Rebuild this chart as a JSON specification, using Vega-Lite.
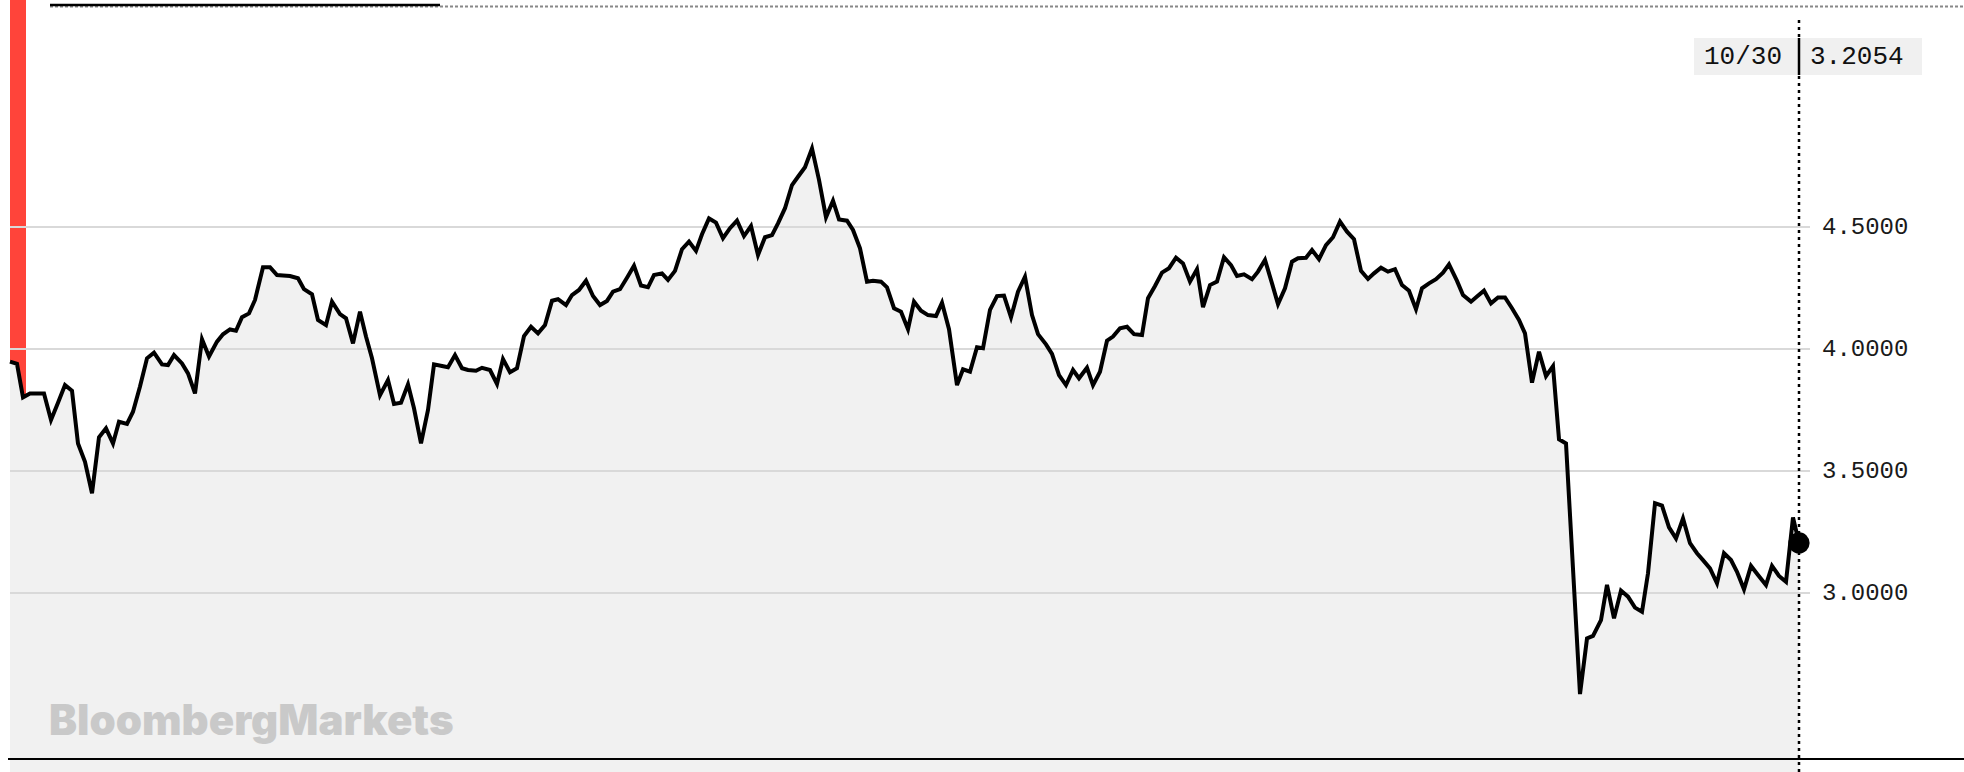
{
  "$schema": "https://vega.github.io/schema/vega-lite/v6.json",
  "width": 1964,
  "height": 772,
  "autosize": {"type": "none"},
  "padding": 0,
  "background": "white",
  "config": {"view": {"stroke": null}},
  "datasets": {
    "series": [
      {"t":0,"v":3.948},{"t":7,"v":3.939},{"t":13,"v":3.802},{"t":20,"v":3.818},{"t":27,"v":3.818},{"t":34,"v":3.818},
      {"t":41,"v":3.709},{"t":48,"v":3.780},{"t":55,"v":3.852},{"t":62,"v":3.829},{"t":68,"v":3.613},{"t":75,"v":3.538},
      {"t":82,"v":3.409},{"t":89,"v":3.638},{"t":96,"v":3.675},{"t":103,"v":3.613},{"t":109,"v":3.702},{"t":117,"v":3.693},
      {"t":123,"v":3.743},{"t":130,"v":3.846},{"t":137,"v":3.962},{"t":144,"v":3.985},{"t":152,"v":3.937},{"t":158,"v":3.934},
      {"t":164,"v":3.975},{"t":172,"v":3.941},{"t":178,"v":3.900},{"t":185,"v":3.818},{"t":192,"v":4.040},{"t":199,"v":3.969},
      {"t":207,"v":4.030},{"t":213,"v":4.060},{"t":220,"v":4.080},{"t":226,"v":4.075},{"t":232,"v":4.130},{"t":239,"v":4.146},
      {"t":245,"v":4.201},{"t":253,"v":4.335},{"t":260,"v":4.335},{"t":267,"v":4.303},{"t":273,"v":4.301},{"t":280,"v":4.299},
      {"t":288,"v":4.290},{"t":294,"v":4.245},{"t":302,"v":4.224},{"t":308,"v":4.119},{"t":316,"v":4.098},{"t":322,"v":4.194},
      {"t":330,"v":4.143},{"t":336,"v":4.126},{"t":343,"v":4.023},{"t":350,"v":4.153},{"t":356,"v":4.051},{"t":362,"v":3.962},
      {"t":370,"v":3.811},{"t":378,"v":3.873},{"t":384,"v":3.775},{"t":391,"v":3.780},{"t":398,"v":3.855},{"t":404,"v":3.757},
      {"t":411,"v":3.613},{"t":418,"v":3.750},{"t":424,"v":3.937},{"t":432,"v":3.930},{"t":438,"v":3.925},{"t":445,"v":3.975},
      {"t":452,"v":3.921},{"t":458,"v":3.914},{"t":466,"v":3.911},{"t":472,"v":3.923},{"t":480,"v":3.914},{"t":487,"v":3.857},
      {"t":493,"v":3.959},{"t":500,"v":3.905},{"t":507,"v":3.921},{"t":514,"v":4.053},{"t":521,"v":4.091},{"t":528,"v":4.064},
      {"t":535,"v":4.098},{"t":542,"v":4.198},{"t":548,"v":4.204},{"t":556,"v":4.180},{"t":562,"v":4.221},{"t":569,"v":4.242},
      {"t":576,"v":4.280},{"t":583,"v":4.217},{"t":590,"v":4.180},{"t":597,"v":4.197},{"t":603,"v":4.235},{"t":610,"v":4.245},
      {"t":617,"v":4.292},{"t":624,"v":4.341},{"t":631,"v":4.260},{"t":638,"v":4.253},{"t":644,"v":4.303},{"t":652,"v":4.310},
      {"t":658,"v":4.283},{"t":665,"v":4.320},{"t":672,"v":4.409},{"t":679,"v":4.440},{"t":686,"v":4.402},{"t":692,"v":4.470},
      {"t":699,"v":4.535},{"t":706,"v":4.518},{"t":713,"v":4.454},{"t":720,"v":4.495},{"t":727,"v":4.526},{"t":734,"v":4.463},
      {"t":741,"v":4.504},{"t":748,"v":4.385},{"t":755,"v":4.458},{"t":762,"v":4.467},{"t":768,"v":4.515},{"t":775,"v":4.577},
      {"t":782,"v":4.672},{"t":788,"v":4.706},{"t":795,"v":4.745},{"t":802,"v":4.822},{"t":809,"v":4.693},{"t":816,"v":4.540},
      {"t":823,"v":4.608},{"t":829,"v":4.531},{"t":837,"v":4.526},{"t":843,"v":4.488},{"t":850,"v":4.413},{"t":857,"v":4.276},
      {"t":863,"v":4.280},{"t":871,"v":4.276},{"t":877,"v":4.253},{"t":884,"v":4.167},{"t":891,"v":4.153},{"t":898,"v":4.081},
      {"t":904,"v":4.194},{"t":911,"v":4.157},{"t":918,"v":4.139},{"t":926,"v":4.135},{"t":932,"v":4.190},{"t":939,"v":4.081},
      {"t":947,"v":3.852},{"t":953,"v":3.917},{"t":960,"v":3.907},{"t":967,"v":4.007},{"t":973,"v":4.003},{"t":980,"v":4.160},
      {"t":987,"v":4.217},{"t":994,"v":4.219},{"t":1001,"v":4.130},{"t":1008,"v":4.235},{"t":1015,"v":4.296},{"t":1022,"v":4.139},
      {"t":1028,"v":4.061},{"t":1036,"v":4.019},{"t":1042,"v":3.980},{"t":1049,"v":3.893},{"t":1056,"v":3.852},{"t":1063,"v":3.914},
      {"t":1069,"v":3.880},{"t":1077,"v":3.923},{"t":1083,"v":3.852},{"t":1090,"v":3.907},{"t":1097,"v":4.034},{"t":1103,"v":4.051},
      {"t":1110,"v":4.085},{"t":1117,"v":4.091},{"t":1124,"v":4.061},{"t":1132,"v":4.057},{"t":1138,"v":4.208},{"t":1145,"v":4.258},
      {"t":1152,"v":4.313},{"t":1159,"v":4.331},{"t":1166,"v":4.374},{"t":1173,"v":4.351},{"t":1180,"v":4.276},{"t":1187,"v":4.327},
      {"t":1193,"v":4.171},{"t":1200,"v":4.262},{"t":1207,"v":4.276},{"t":1214,"v":4.376},{"t":1221,"v":4.344},{"t":1227,"v":4.299},
      {"t":1234,"v":4.306},{"t":1242,"v":4.286},{"t":1248,"v":4.317},{"t":1255,"v":4.365},{"t":1262,"v":4.269},{"t":1268,"v":4.184},
      {"t":1275,"v":4.249},{"t":1282,"v":4.358},{"t":1288,"v":4.372},{"t":1296,"v":4.374},{"t":1302,"v":4.406},{"t":1309,"v":4.368},
      {"t":1316,"v":4.426},{"t":1323,"v":4.458},{"t":1330,"v":4.522},{"t":1337,"v":4.481},{"t":1344,"v":4.450},{"t":1351,"v":4.320},
      {"t":1358,"v":4.287},{"t":1364,"v":4.310},{"t":1371,"v":4.333},{"t":1378,"v":4.317},{"t":1385,"v":4.327},{"t":1392,"v":4.262},
      {"t":1399,"v":4.239},{"t":1406,"v":4.163},{"t":1412,"v":4.249},{"t":1419,"v":4.269},{"t":1426,"v":4.286},{"t":1433,"v":4.313},
      {"t":1439,"v":4.347},{"t":1447,"v":4.279},{"t":1453,"v":4.221},{"t":1461,"v":4.194},{"t":1467,"v":4.215},{"t":1474,"v":4.239},
      {"t":1481,"v":4.187},{"t":1488,"v":4.211},{"t":1495,"v":4.211},{"t":1502,"v":4.167},{"t":1509,"v":4.119},{"t":1515,"v":4.064},
      {"t":1522,"v":3.862},{"t":1529,"v":3.989},{"t":1536,"v":3.889},{"t":1543,"v":3.930},{"t":1549,"v":3.630},{"t":1556,"v":3.613},
      {"t":1570,"v":2.586},{"t":1577,"v":2.814},{"t":1583,"v":2.824},{"t":1591,"v":2.889},{"t":1597,"v":3.033},{"t":1604,"v":2.896},
      {"t":1611,"v":3.010},{"t":1618,"v":2.985},{"t":1625,"v":2.940},{"t":1632,"v":2.923},{"t":1638,"v":3.081},{"t":1645,"v":3.368},
      {"t":1652,"v":3.358},{"t":1659,"v":3.269},{"t":1666,"v":3.224},{"t":1673,"v":3.306},{"t":1680,"v":3.204},{"t":1687,"v":3.163},
      {"t":1693,"v":3.135},{"t":1700,"v":3.101},{"t":1707,"v":3.040},{"t":1714,"v":3.163},{"t":1721,"v":3.135},{"t":1727,"v":3.087},
      {"t":1734,"v":3.015},{"t":1741,"v":3.111},{"t":1748,"v":3.074},{"t":1756,"v":3.033},{"t":1762,"v":3.111},{"t":1769,"v":3.070},
      {"t":1776,"v":3.046},{"t":1783,"v":3.310},{"t":1789,"v":3.2054}
    ],
    "grid": [{"v": 3.0}, {"v": 3.5}, {"v": 4.0}, {"v": 4.5}],
    "last": [{"t": 1789, "v": 3.2054, "date": "10/30"}]
  },
  "layer": [
    {
      "data": {"values": [{}]},
      "mark": {"type": "rect", "color": "#ff443a"},
      "encoding": {
        "x": {"datum": 0, "type": "quantitative", "scale": {"domain": [-10, 1954], "nice": false, "zero": false}, "axis": null},
        "x2": {"datum": 16},
        "y": {"datum": 5.4303, "type": "quantitative", "scale": {"domain": [2.2664, 5.4303], "nice": false, "zero": false}, "axis": null},
        "y2": {"datum": 2.2664}
      }
    },
    {
      "data": {"name": "series"},
      "mark": {"type": "area", "color": "#f1f1f1", "opacity": 1},
      "encoding": {
        "x": {"field": "t", "type": "quantitative", "axis": null},
        "y": {"field": "v", "type": "quantitative", "axis": null},
        "y2": {"datum": 2.2664}
      }
    },
    {
      "data": {"name": "grid"},
      "mark": {"type": "rule", "color": "#d9d9d9", "strokeWidth": 2},
      "encoding": {
        "x": {"datum": 0, "type": "quantitative", "axis": null},
        "x2": {"datum": 1800},
        "y": {"field": "v", "type": "quantitative", "axis": null}
      }
    },
    {
      "data": {"name": "grid"},
      "mark": {"type": "text", "font": "Liberation Mono", "fontSize": 24, "color": "#1a1a1a", "align": "left", "baseline": "middle"},
      "encoding": {
        "x": {"datum": 1812, "type": "quantitative", "axis": null},
        "y": {"field": "v", "type": "quantitative", "axis": null},
        "text": {"field": "v", "format": ".4f"}
      }
    },
    {
      "data": {"values": [{}]},
      "mark": {"type": "text", "text": "BloombergMarkets", "font": "Inter", "fontWeight": 900, "fontSize": 42, "color": "#c9c9c9", "align": "left", "baseline": "alphabetic"},
      "encoding": {
        "x": {"datum": 39, "type": "quantitative", "axis": null},
        "y": {"datum": 2.418, "type": "quantitative", "axis": null}
      }
    },
    {
      "data": {"name": "series"},
      "mark": {"type": "line", "color": "#000000", "strokeWidth": 4},
      "encoding": {
        "x": {"field": "t", "type": "quantitative", "axis": null},
        "y": {"field": "v", "type": "quantitative", "axis": null}
      }
    },
    {
      "data": {"values": [{}]},
      "mark": {"type": "rule", "color": "#000000", "strokeWidth": 2},
      "encoding": {
        "x": {"datum": -2, "type": "quantitative", "axis": null},
        "x2": {"datum": 1954},
        "y": {"datum": 2.3197, "type": "quantitative", "axis": null}
      }
    },
    {
      "data": {"values": [{}]},
      "mark": {"type": "rule", "color": "#888888", "strokeWidth": 2, "strokeDash": [3, 2]},
      "encoding": {
        "x": {"datum": 40, "type": "quantitative", "axis": null},
        "x2": {"datum": 1954},
        "y": {"datum": 5.4037, "type": "quantitative", "axis": null}
      }
    },
    {
      "data": {"values": [{}]},
      "mark": {"type": "rule", "color": "#000000", "strokeWidth": 2.5},
      "encoding": {
        "x": {"datum": 40, "type": "quantitative", "axis": null},
        "x2": {"datum": 430},
        "y": {"datum": 5.4098, "type": "quantitative", "axis": null}
      }
    },
    {
      "data": {"name": "last"},
      "mark": {"type": "rule", "color": "#000000", "strokeWidth": 2.5, "strokeDash": [3, 4]},
      "encoding": {
        "x": {"field": "t", "type": "quantitative", "axis": null},
        "y": {"datum": 5.348, "type": "quantitative", "axis": null},
        "y2": {"datum": 2.2664}
      }
    },
    {
      "data": {"values": [{}]},
      "mark": {"type": "rect", "color": "#f0f0f0"},
      "encoding": {
        "x": {"datum": 1684, "type": "quantitative", "axis": null},
        "x2": {"datum": 1912},
        "y": {"datum": 5.2746, "type": "quantitative", "axis": null},
        "y2": {"datum": 5.123}
      }
    },
    {
      "data": {"name": "last"},
      "mark": {"type": "rule", "color": "#000000", "strokeWidth": 2.5},
      "encoding": {
        "x": {"field": "t", "type": "quantitative", "axis": null},
        "y": {"datum": 5.2746, "type": "quantitative", "axis": null},
        "y2": {"datum": 5.123}
      }
    },
    {
      "data": {"name": "last"},
      "mark": {"type": "text", "font": "Liberation Mono", "fontSize": 26, "color": "#111111", "align": "right", "baseline": "middle", "dx": -17},
      "encoding": {
        "x": {"field": "t", "type": "quantitative", "axis": null},
        "y": {"datum": 5.1988, "type": "quantitative", "axis": null},
        "text": {"field": "date"}
      }
    },
    {
      "data": {"name": "last"},
      "mark": {"type": "text", "font": "Liberation Mono", "fontSize": 26, "color": "#111111", "align": "left", "baseline": "middle", "dx": 11},
      "encoding": {
        "x": {"field": "t", "type": "quantitative", "axis": null},
        "y": {"datum": 5.1988, "type": "quantitative", "axis": null},
        "text": {"field": "v", "format": ".4f"}
      }
    },
    {
      "data": {"name": "last"},
      "mark": {"type": "point", "filled": true, "color": "#000000", "opacity": 1, "size": 450},
      "encoding": {
        "x": {"field": "t", "type": "quantitative", "axis": null},
        "y": {"field": "v", "type": "quantitative", "axis": null}
      }
    }
  ]
}
